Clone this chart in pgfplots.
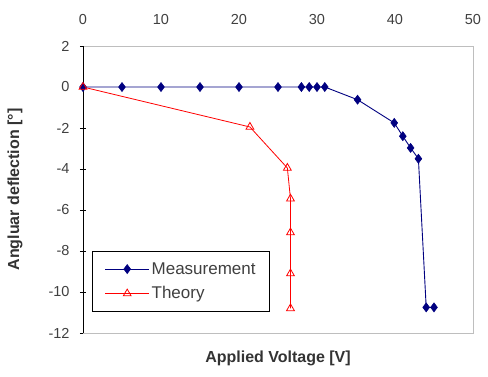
\documentclass[border=0pt]{standalone}
\usepackage{pgfplots}
\pgfplotsset{compat=1.18}
\usepackage{fontspec}
\setmainfont{Liberation Sans}
\definecolor{navy}{RGB}{0,0,128}
\definecolor{frame}{RGB}{190,190,190}
\begin{document}
\begin{tikzpicture}[x=1pt,y=1pt]
\useasboundingbox (0,0) rectangle (488,376);
\begin{axis}[
  at={(83pt,43pt)}, anchor=south west,
  width=390pt, height=287pt, scale only axis,
  xmin=0, xmax=50, ymin=-12, ymax=2,
  xtick={0,10,...,50}, ytick={-12,-10,...,2},
  xticklabel pos=top, ytick pos=left,
  axis line style={frame, line width=0.8pt},
  x tick style={draw=none},
  y tick style={black, line width=0.8pt},
  tick align=center, major tick length=6pt,
  /pgf/number format/assume math mode=true,
  tick label style={font=\fontsize{14.5}{16}\selectfont, text=black!75},
  xticklabel style={yshift=15pt},
  yticklabel style={xshift=-7pt},
  xlabel={\textbf{Applied Voltage [V]}},
  ylabel={\textbf{Angluar deflection [°]}},
  label style={font=\fontsize{16}{18}\selectfont, text=black!80},
  xlabel style={at={(axis description cs:0.5,0)}, anchor=center, yshift=-25pt},
  ylabel style={at={(axis description cs:-0.174,0.5)}, anchor=center, rotate=0},
  legend style={at={(axis cs:1.2,-10.97)}, anchor=south west, draw=black, line width=0.8pt,
    font=\fontsize{17}{19}\selectfont, text=black!75, inner xsep=12pt, inner ysep=9pt,
    row sep=7pt, fill=white},
  legend cell align=left,
  legend image code/.code={\draw[mark repeat=2,mark phase=2] plot coordinates {(0pt,0pt) (22pt,0pt) (44pt,0pt)};},
]
\addplot[navy, line width=0.9pt, mark=diamond*, mark size=4.5pt, mark options={fill=navy, draw=navy, line width=0.6pt}]
coordinates {(0,0) (5,0) (10,0) (15,0) (20,0) (25,0) (28,0) (29,0) (30,0) (31,0)
 (35.2,-0.62) (39.9,-1.75) (41,-2.4) (42,-2.97) (43,-3.5) (44,-10.75) (45,-10.75)};
\addlegendentry{Measurement}
\addplot[red, line width=0.8pt, mark=triangle, mark size=4.5pt, mark options={red, line width=0.8pt}]
coordinates {(0,0) (21.4,-1.95) (26.2,-3.95) (26.6,-5.45) (26.6,-7.1) (26.6,-9.1) (26.6,-10.8)};
\addlegendentry{Theory}
\draw[black, line width=0.9pt] (rel axis cs:0,0) -- (rel axis cs:0,1);
\end{axis}
\end{tikzpicture}
\end{document}
